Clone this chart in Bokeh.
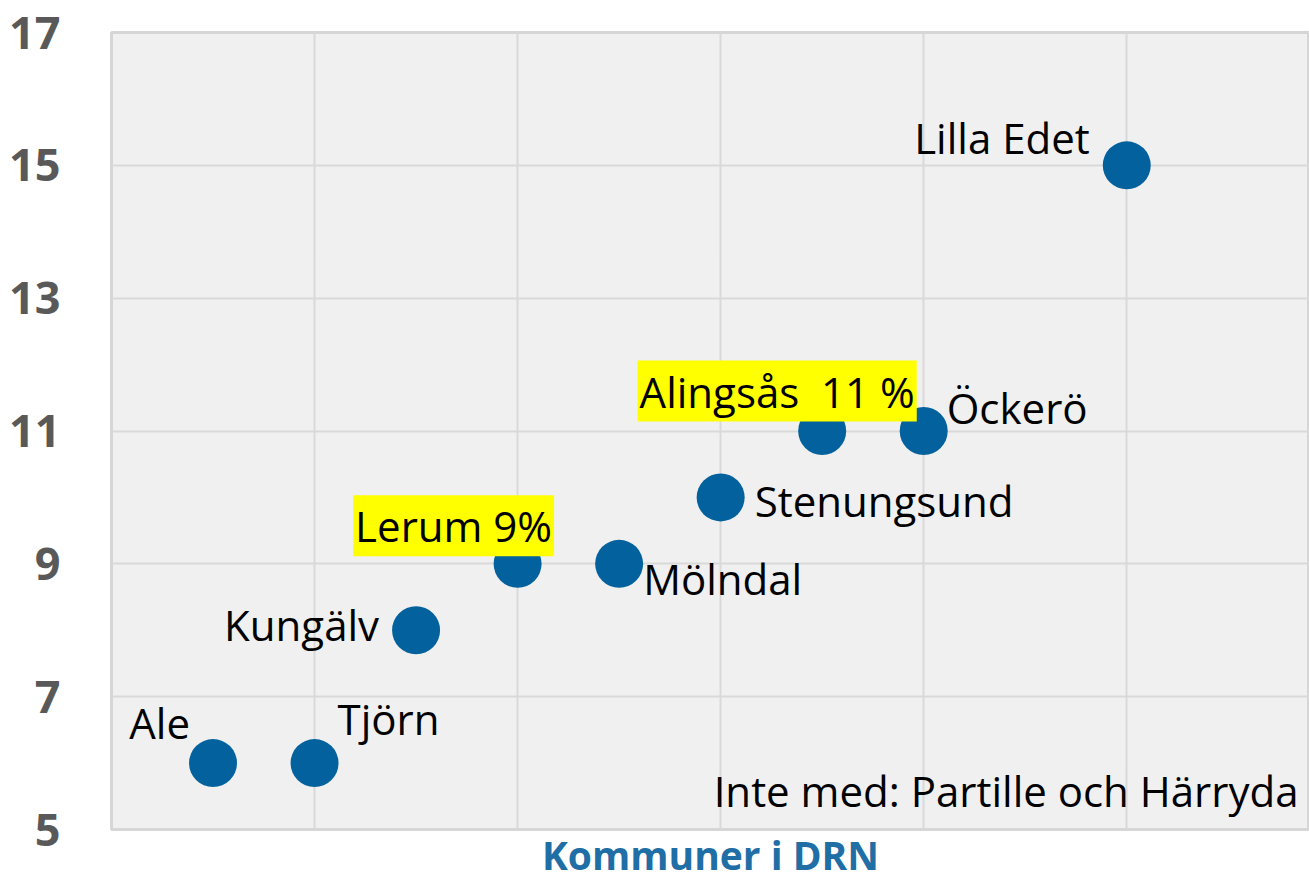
from bokeh.plotting import figure
from bokeh.models import Range1d, FixedTicker, Label, ColumnDataSource
from bokeh.embed import file_html
from bokeh.resources import INLINE

# Data
names = ["Ale", "Tjörn", "Kungälv", "Lerum 9%", "Mölndal", "Stenungsund",
         "Alingsås\u00a0\u00a011 %", "Öckerö", "Lilla Edet"]
xs = [0.5, 1.0, 1.5, 2.0, 2.5, 3.0, 3.5, 4.0, 5.0]
ys = [6, 6, 8, 9, 9, 10, 11, 11, 15]
highlight = [False, False, False, True, False, False, True, False, False]
y_ticks = [5, 7, 9, 11, 13, 15, 17]
x_grid = [1, 2, 3, 4, 5]
x_title = "Kommuner i DRN"
note = "Inte med: Partille och Härryda"

# label placement styles (screen px offsets, alignment)
label_style = [
    (-23, 41, "right"),
    (23, 45, "left"),
    (-37, 6, "right"),
    (-64, 38, "center"),
    (24, -15, "left"),
    (34, -3, "left"),
    (-45, 40, "center"),
    (23, 24, "left"),
    (-37, 28, "right"),
]

FONT = "Open Sans"
X_END = 5.90        # visible part of the x axis

p = figure(width=1309, height=884, output_backend="svg", toolbar_location=None,
           x_range=Range1d(0, X_END), y_range=Range1d(5, 17),
           min_border_left=111, min_border_right=0, min_border_top=32,
           min_border_bottom=55)
p.background_fill_color = "#f0f0f0"
p.border_fill_color = "white"
p.outline_line_color = "#d6d6d6"
p.outline_line_width = 3

p.yaxis.ticker = FixedTicker(ticks=y_ticks)
p.xaxis.ticker = FixedTicker(ticks=[])
p.xgrid.ticker = FixedTicker(ticks=x_grid)
p.ygrid.ticker = FixedTicker(ticks=y_ticks)
p.grid.grid_line_color = "#d9d9d9"
p.grid.grid_line_width = 2

for ax in (p.xaxis[0], p.yaxis[0]):
    ax.axis_line_color = None
    ax.major_tick_line_color = None
    ax.minor_tick_line_color = None
    ax.major_tick_out = 0
    ax.major_tick_in = 0

ya = p.yaxis[0]
ya.major_label_text_font = FONT
ya.major_label_text_font_style = "bold"
ya.major_label_text_font_size = "45px"
ya.major_label_text_color = "#595959"
ya.major_label_standoff = 51

xa = p.xaxis[0]
xa.major_label_text_font_size = "0px"
xa.major_label_standoff = 0
xa.axis_label = x_title
xa.axis_label_text_font = FONT
xa.axis_label_text_font_style = "bold"
xa.axis_label_text_font_size = "39px"
xa.axis_label_text_color = "#1f6ea6"
xa.axis_label_standoff = -2

src = ColumnDataSource(dict(x=xs, y=ys, name=names))
p.scatter("x", "y", source=src, size=48, fill_color="#03629d", line_color=None)

for n, x, y, h, st in zip(names, xs, ys, highlight, label_style):
    dx, dy, al = st
    lab = Label(x=x, y=y, text=n, x_offset=dx, y_offset=dy, text_align=al,
                text_baseline="middle", text_font=FONT, text_font_size="42px",
                text_color="black")
    if h:
        lab.background_fill_color = "#ffff00"
        lab.padding = 2
    p.add_layout(lab)

p.add_layout(Label(x=X_END, y=5, text=note, x_offset=-11, y_offset=39,
                   text_align="right", text_baseline="middle", text_font=FONT,
                   text_font_size="42px", text_color="black"))

open("out.html", "w").write(file_html(p, INLINE))
